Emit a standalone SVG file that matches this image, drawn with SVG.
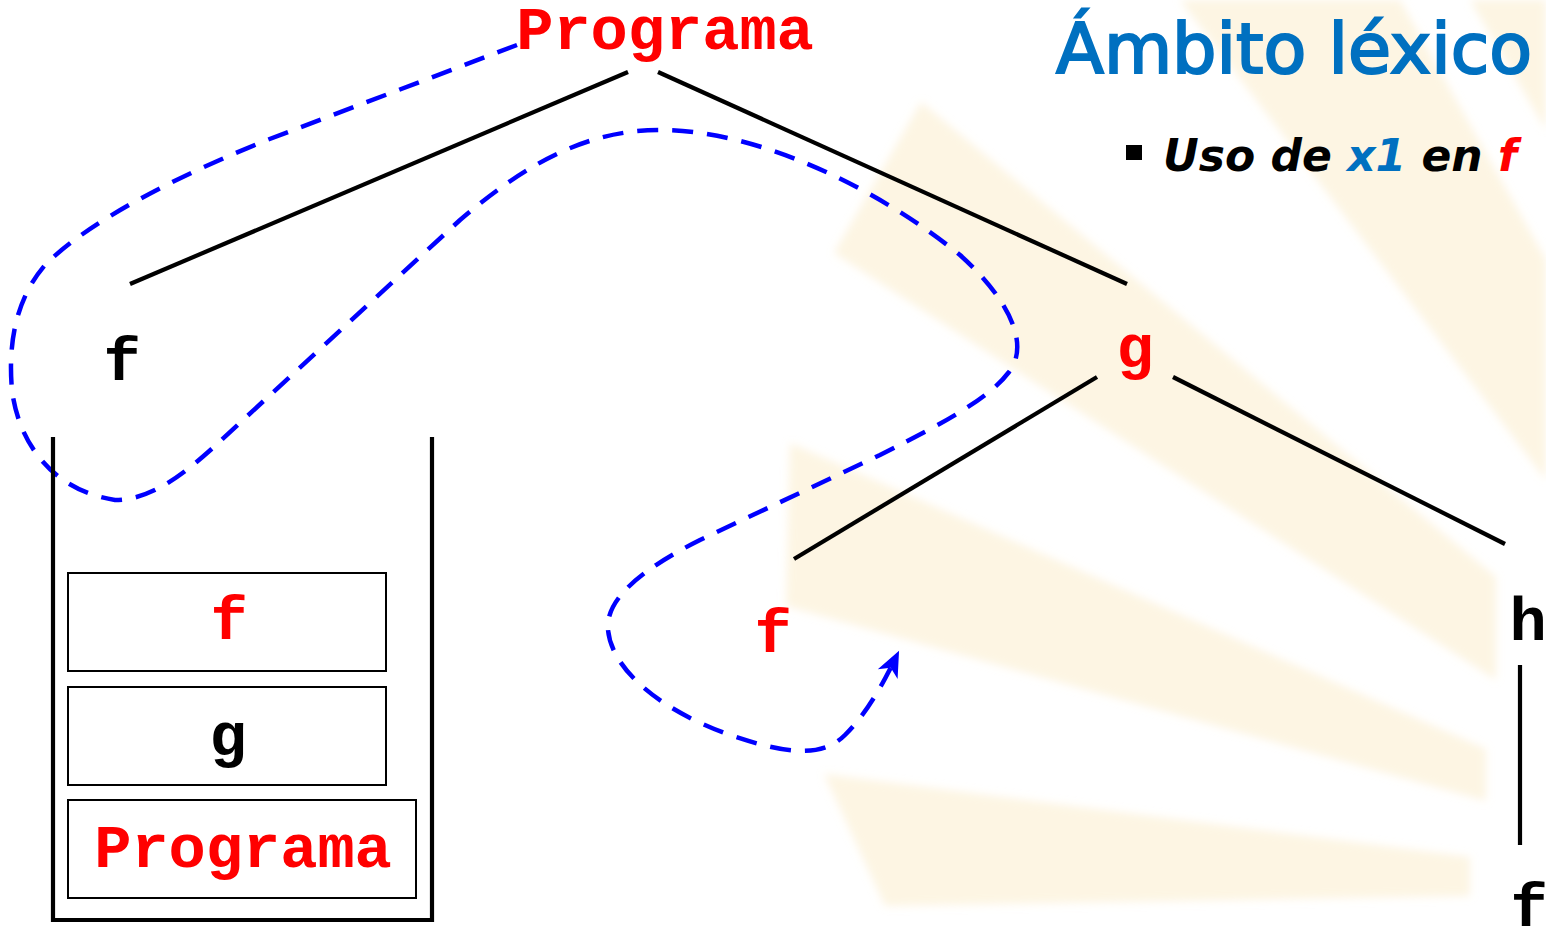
<svg xmlns="http://www.w3.org/2000/svg" width="1546" height="927" viewBox="0 0 1546 927">
<defs>
<style>
.mono{font-family:"Liberation Mono","Courier New",monospace;font-weight:bold;font-size:62px;text-anchor:middle}
.red{fill:#FF0000}
.blk{fill:#000000}
.edge{stroke:#000;stroke-width:4.2;fill:none}
.frame{fill:none;stroke:#000;stroke-width:2}
.ray{fill:#fbe7bd;opacity:0.42}
.scope{fill:none;stroke:#0000FF;stroke-width:4.5;stroke-dasharray:21 14}
</style>
<filter id="soft" x="-5%" y="-5%" width="110%" height="110%"><feGaussianBlur stdDeviation="4"/></filter>
<marker id="ah" markerUnits="userSpaceOnUse" markerWidth="44" markerHeight="44" viewBox="-22 -22 44 44" refX="0" refY="0" orient="auto">
<path d="M7,0 L-19,-11 L-12,0 L-19,11 Z" fill="#0000FF"/>
</marker>
</defs>
<rect width="1546" height="927" fill="#ffffff"/>
<g id="background" filter="url(#soft)">
<polygon class="ray" points="824,774 885,906 1470,896 1470,857"/>
<polygon class="ray" points="790,443 786,606 1486,801 1486,749"/>
<polygon class="ray" points="921,102 834,253 1496,680 1496,577"/>
<polygon class="ray" points="1180,0 1400,0 1546,260 1546,480"/>
<polygon class="ray" points="1470,0 1546,0 1546,130"/>
</g>
<g id="title">
<text x="1532" y="73" font-family="DejaVu Sans, Verdana, sans-serif" font-size="70" fill="#0070C0" stroke="#0070C0" stroke-width="2.2" text-anchor="end">Ámbito léxico</text>
<rect x="1126" y="145" width="16" height="15" fill="#000"/>
<text x="1163" y="171" font-family="DejaVu Sans, Verdana, sans-serif" font-size="44" font-weight="bold" font-style="italic" fill="#000">Uso de <tspan fill="#0070C0">x1</tspan> en <tspan fill="#FF0000">f</tspan></text>
</g>
<g id="connectors">
<line class="edge" x1="628" y1="72" x2="130" y2="284"/>
<line class="edge" x1="658" y1="72" x2="1127" y2="284"/>
<line class="edge" x1="1097" y1="377" x2="794" y2="559"/>
<line class="edge" x1="1173" y1="377" x2="1505" y2="544"/>
<line class="edge" x1="1520" y1="665" x2="1520" y2="845"/>
<path class="scope" marker-end="url(#ah)" d="M517,45 L267,140 C180,175 90,220 45,265 C15,300 8,345 12,390 C18,440 50,490 115,500 C160,500 200,460 243,420 L460,220 C530,160 590,130 660,130 C760,130 880,190 960,255 C1010,300 1030,345 1009,372 C990,397 950,420 880,455 L700,540 C640,570 605,600 608,630 C612,670 660,710 730,735 C780,752 820,760 845,735 C865,715 880,690 896,657"/>
</g>
<g id="node-programa"><text class="mono red" x="665" y="49">Programa</text></g>
<g id="node-f1"><text class="mono blk" x="122" y="380">f</text></g>
<g id="node-g"><text class="mono red" x="1135" y="367">g</text></g>
<g id="node-f2"><text class="mono red" x="773" y="652">f</text></g>
<g id="node-h"><text class="mono blk" x="1528" y="640">h</text></g>
<g id="node-f3"><text class="mono blk" x="1529" y="926">f</text></g>
<g id="stack">
<path class="edge" d="M53,437 L53,920 L432,920 L432,437"/>
<g id="stack-f"><rect class="frame" x="68" y="573" width="318" height="98"/><text class="mono red" x="229" y="639">f</text></g>
<g id="stack-g"><rect class="frame" x="68" y="687" width="318" height="98"/><text class="mono blk" x="228" y="755">g</text></g>
<g id="stack-programa"><rect class="frame" x="68" y="800" width="348" height="98"/><text class="mono red" x="243" y="867">Programa</text></g>
</g>
</svg>
